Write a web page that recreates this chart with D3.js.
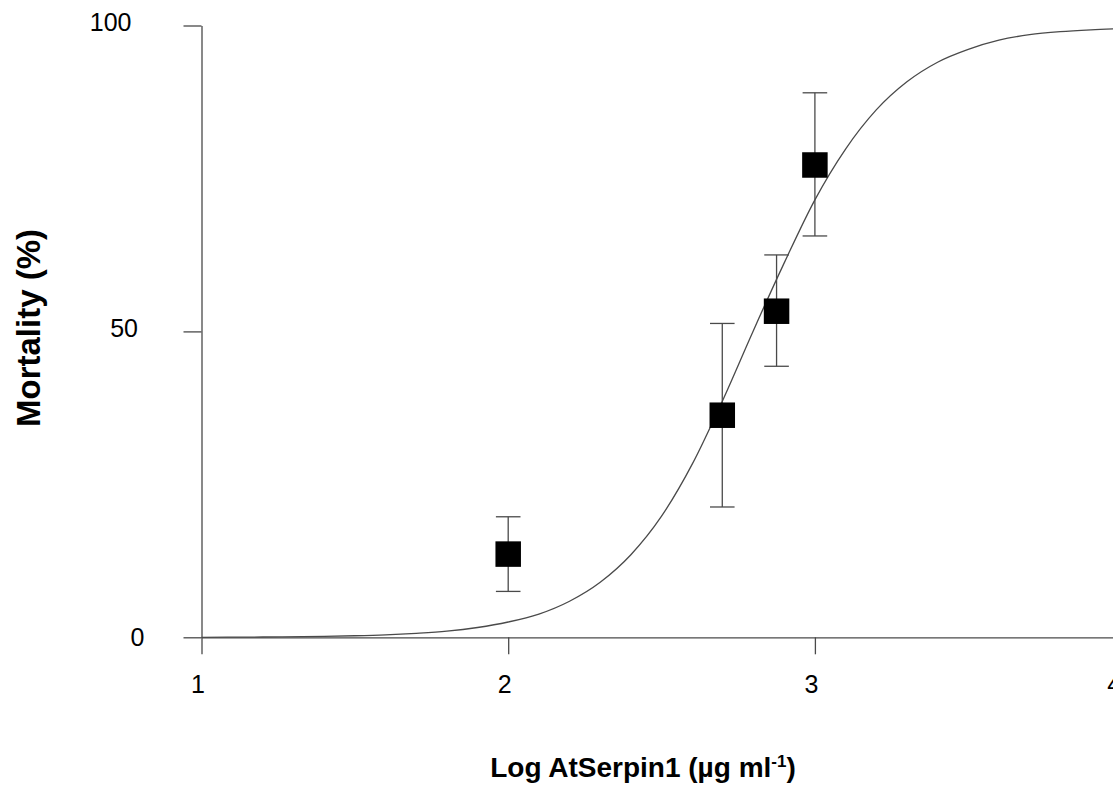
<!DOCTYPE html>
<html>
<head>
<meta charset="utf-8">
<script src="https://cdnjs.cloudflare.com/ajax/libs/d3/7.8.5/d3.min.js"></script>
<style>
    body { margin: 0; background: #ffffff; }
    svg { display: block; }
    text { font-family: "Liberation Sans", Arial, sans-serif; fill: #000000; }
</style>
</head>
<body>
<script>
/*  Mortality against log AtSerpin1 concentration, measured points with
*   error bars and the fitted dose response curve.
*/

// measured points: log concentration, mean mortality, error bar ends
const doseLog = [2.0, 2.698, 2.875, 3.0];
const mortality = [13.6, 36.3, 53.3, 77.2];
const errLow = [7.5, 21.3, 44.3, 65.6];
const errHigh = [19.7, 51.3, 62.5, 89.0];

// fitted curve
const curveX = [1.0, 1.2, 1.4, 1.5, 1.6, 1.7, 1.8, 1.9, 2.0, 2.1, 2.2, 2.3,
                2.4, 2.5, 2.6, 2.7, 2.8, 2.9, 3.0, 3.1, 3.2, 3.3, 3.4, 3.5,
                3.6, 3.7, 3.8, 3.9, 4.0];
const curveY = [0.0, 0.05, 0.15, 0.25, 0.4, 0.65, 1.0, 1.6, 2.5, 3.8, 5.9,
                9.0, 13.5, 19.8, 28.3, 38.8, 50.2, 61.2, 71.5, 79.8, 86.2,
                90.8, 94.0, 96.1, 97.6, 98.5, 99.0, 99.3, 99.5];

// tick labels
const xTicks = [1, 2, 3, 4];
const yTicks = [0, 50, 100];

window.onload = function() {
    makeChart();
};


/** Draws the whole chart. */
function makeChart() {

    const w = 1113;
    const h = 786;
    const axisColor = "#4a4a4a";

    let svg = d3.select("body")
                .append("svg")
                .attr("width", w)
                .attr("height", h);

    // scales
    let xScale = d3.scaleLinear()
                   .domain([1, 4])
                   .range([201.5, 1121.6]);

    let yScale = d3.scaleLinear()
                   .domain([0, 100])
                   .range([637.3, 25.5]);

    // x axis
    let xAxis = svg.append("g")
                   .attr("transform", "translate(0," + yScale(0) + ")")
                   .call(d3.axisBottom(xScale)
                           .tickValues(xTicks)
                           .tickSizeInner(17)
                           .tickSizeOuter(0)
                           .tickPadding(21)
                           .tickFormat(d3.format("d")));

    // y axis
    let yAxis = svg.append("g")
                   .attr("transform", "translate(" + xScale(1) + ",0)")
                   .call(d3.axisLeft(yScale)
                           .tickValues(yTicks)
                           .tickSizeInner(18)
                           .tickSizeOuter(0)
                           .tickFormat(d3.format("d")));

    // axis styling
    svg.selectAll(".domain, .tick line")
       .attr("stroke", axisColor)
       .attr("stroke-width", 1.3);

    xAxis.selectAll("text")
         .attr("x", function(d) { return d == 4 ? -8 : -4; })
         .attr("dy", "0.71em")
         .style("font-size", "25px")
         .style("font-family", "'Liberation Sans', Arial, sans-serif")
         .attr("fill", "#000");

    // y tick labels sit a little further left as the value grows
    yAxis.selectAll("text")
         .attr("x", function(d) { return -57 - 0.13 * d; })
         .attr("dy", function(d) { return d == 0 ? "0.32em" : "0.2em"; })
         .style("font-size", "25px")
         .style("font-family", "'Liberation Sans', Arial, sans-serif")
         .attr("fill", "#000");

    // fitted curve
    let line = d3.line()
                 .x(function(d) { return xScale(d[0]); })
                 .y(function(d) { return yScale(d[1]); })
                 .curve(d3.curveMonotoneX);

    let curveData = curveX.map(function(d, i) { return [d, curveY[i]]; });

    svg.append("path")
       .datum(curveData)
       .attr("d", line)
       .attr("fill", "none")
       .attr("stroke", axisColor)
       .attr("stroke-width", 1.3);

    // error bars
    let points = doseLog.map(function(d, i) {
        return {x: d, y: mortality[i], lo: errLow[i], hi: errHigh[i]};
    });

    const capHalf = 12.3;
    let bars = svg.selectAll(".errbar")
                  .data(points)
                  .enter()
                  .append("g")
                  .attr("class", "errbar")
                  .attr("stroke", axisColor)
                  .attr("stroke-width", 1.3);

    bars.append("line")
        .attr("x1", function(d) { return xScale(d.x); })
        .attr("x2", function(d) { return xScale(d.x); })
        .attr("y1", function(d) { return yScale(d.lo); })
        .attr("y2", function(d) { return yScale(d.hi); });

    bars.append("line")
        .attr("x1", function(d) { return xScale(d.x) - capHalf; })
        .attr("x2", function(d) { return xScale(d.x) + capHalf; })
        .attr("y1", function(d) { return yScale(d.hi); })
        .attr("y2", function(d) { return yScale(d.hi); });

    bars.append("line")
        .attr("x1", function(d) { return xScale(d.x) - capHalf; })
        .attr("x2", function(d) { return xScale(d.x) + capHalf; })
        .attr("y1", function(d) { return yScale(d.lo); })
        .attr("y2", function(d) { return yScale(d.lo); });

    // square markers
    const size = 25.5;
    svg.selectAll(".marker")
       .data(points)
       .enter()
       .append("rect")
       .attr("class", "marker")
       .attr("x", function(d) { return xScale(d.x) - size / 2; })
       .attr("y", function(d) { return yScale(d.y) - size / 2; })
       .attr("width", size)
       .attr("height", size)
       .attr("fill", "#000");

    // x axis label
    let xLabel = svg.append("text")
                    .attr("x", 643)
                    .attr("y", 777)
                    .style("text-anchor", "middle")
                    .style("font-size", "28px")
                    .style("font-weight", "bold");

    xLabel.append("tspan").text("Log AtSerpin1 (µg ml");
    xLabel.append("tspan")
          .attr("dy", -10)
          .style("font-size", "17px")
          .text("-1");
    xLabel.append("tspan")
          .attr("dy", 10)
          .text(")");

    // y axis label
    svg.append("text")
       .attr("transform", "translate(40," + 328 + ") rotate(-90)")
       .style("text-anchor", "middle")
       .style("font-size", "33px")
       .style("font-weight", "bold")
       .text("Mortality (%)");
}
</script>
</body>
</html>
